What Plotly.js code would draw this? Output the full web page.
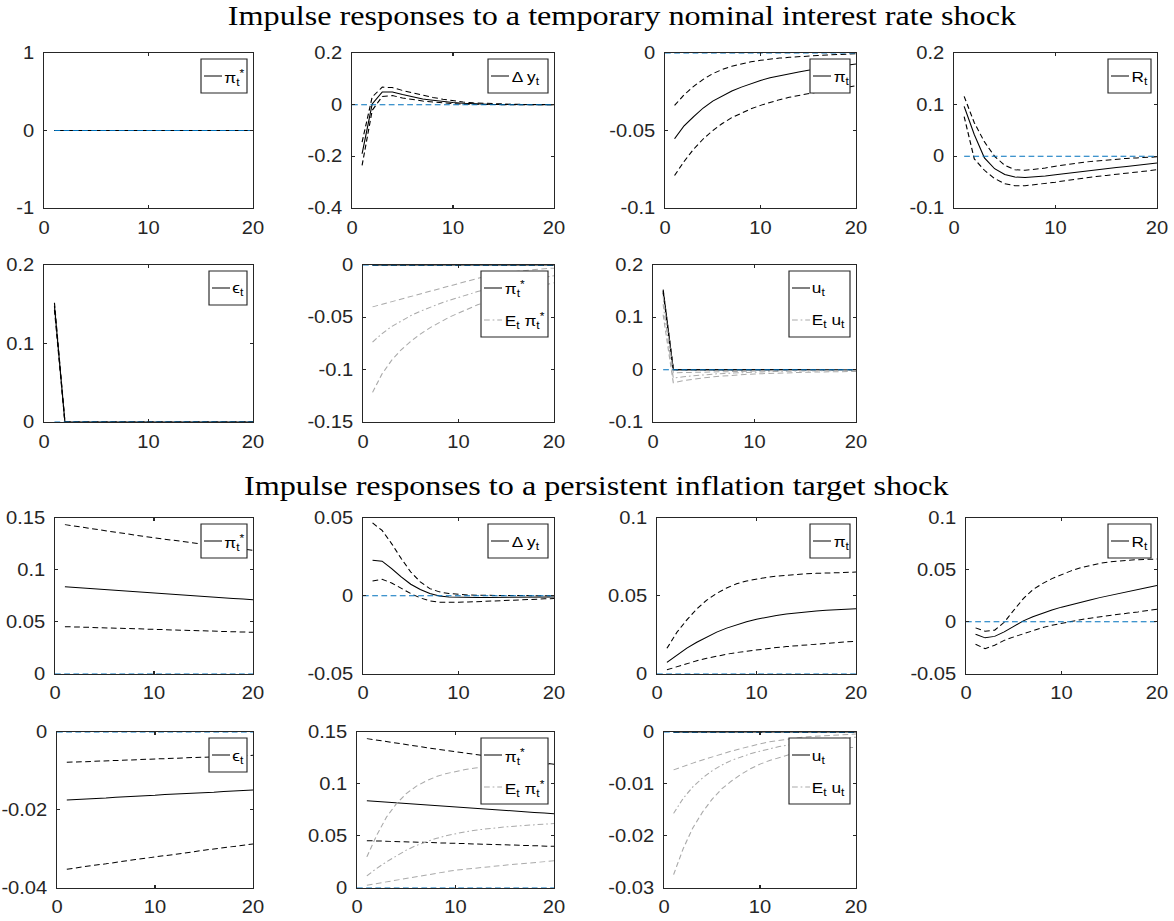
<!DOCTYPE html>
<html><head><meta charset="utf-8">
<script src="https://cdn.plot.ly/plotly-3.0.1.min.js"></script>
<style>
html,body{margin:0;padding:0;background:#fff;overflow:hidden;}
#plot{width:1021px;height:921px;transform:scaleX(1.149853);transform-origin:0 0;}
</style></head><body><div id="plot"></div>
<script>
// ---------------- DATA ----------------
const horizon = [1,2,3,4,5,6,7,8,9,10,11,12,13,14,15,16,17,18,19,20];
const zeroLineX0 = [0,20];
const zeroLineX1 = [1,20];
const zeroLineY = [0,0];
const zeros20 = [0,0,0,0,0,0,0,0,0,0,0,0,0,0,0,0,0,0,0,0];
const xTickVals = [0,10,20];

// Temporary nominal interest rate shock
const tmpPiStar_med = zeros20, tmpPiStar_hi = zeros20, tmpPiStar_lo = zeros20;
const tmpDy_med = [-0.19,0.003,0.049,0.049,0.039,0.030,0.022,0.017,0.012,0.008,0.005,0.003,0.002,0.001,0.001,0.0005,0.0003,0.0002,0.0001,0.0];
const tmpDy_hi  = [-0.145,0.03,0.068,0.066,0.055,0.045,0.036,0.028,0.021,0.015,0.010,0.007,0.005,0.003,0.002,0.0015,0.001,0.0007,0.0005,0.0003];
const tmpDy_lo  = [-0.235,-0.022,0.032,0.035,0.026,0.019,0.014,0.010,0.006,0.004,0.002,0.001,0.0005,0,0,0,0,0,0,0];
const tmpPi_med = [-0.0553,-0.047,-0.041,-0.0355,-0.031,-0.0275,-0.0245,-0.022,-0.0197,-0.0177,-0.016,-0.0146,-0.0133,-0.0122,-0.0112,-0.0103,-0.0094,-0.0086,-0.0078,-0.0071];
const tmpPi_hi  = [-0.0338,-0.027,-0.0215,-0.017,-0.0133,-0.0106,-0.0085,-0.0069,-0.0057,-0.0047,-0.0039,-0.0033,-0.0028,-0.0023,-0.002,-0.0016,-0.0013,-0.001,-0.0007,-0.0005];
const tmpPi_lo  = [-0.079,-0.07,-0.062,-0.0555,-0.05,-0.0455,-0.0417,-0.0386,-0.036,-0.0338,-0.0318,-0.0301,-0.0286,-0.0273,-0.0262,-0.0251,-0.0241,-0.0232,-0.0222,-0.0212];
const tmpR_med = [0.0968,0.042,-0.003,-0.024,-0.035,-0.04,-0.041,-0.04,-0.038,-0.0355,-0.033,-0.0307,-0.0284,-0.0261,-0.0239,-0.0217,-0.0196,-0.0175,-0.0153,-0.013];
const tmpR_hi  = [0.116,0.065,0.028,0.0,-0.0174,-0.026,-0.027,-0.025,-0.0226,-0.019,-0.016,-0.0135,-0.011,-0.009,-0.007,-0.0055,-0.004,-0.003,-0.002,-0.001];
const tmpR_lo  = [0.077,-0.005,-0.027,-0.043,-0.053,-0.057,-0.057,-0.055,-0.053,-0.05,-0.047,-0.044,-0.042,-0.039,-0.037,-0.035,-0.033,-0.031,-0.0285,-0.026];
const tmpEps_med = [0.148,0,0,0,0,0,0,0,0,0,0,0,0,0,0,0,0,0,0,0];
const tmpEps_hi  = [0.152,0,0,0,0,0,0,0,0,0,0,0,0,0,0,0,0,0,0,0];
const tmpEps_lo  = [0.143,0,0,0,0,0,0,0,0,0,0,0,0,0,0,0,0,0,0,0];
const tmpEPiStar_med = [-0.0736,-0.0655,-0.0588,-0.0532,-0.0484,-0.0442,-0.0404,-0.037,-0.0338,-0.0308,-0.028,-0.0254,-0.023,-0.0208,-0.0187,-0.0168,-0.015,-0.0133,-0.0117,-0.0102];
const tmpEPiStar_hi  = [-0.040,-0.0375,-0.035,-0.0325,-0.030,-0.0275,-0.025,-0.0225,-0.020,-0.0175,-0.015,-0.0128,-0.0108,-0.009,-0.0075,-0.0062,-0.0051,-0.0042,-0.0035,-0.003];
const tmpEPiStar_lo  = [-0.1217,-0.104,-0.091,-0.081,-0.073,-0.066,-0.060,-0.055,-0.050,-0.046,-0.042,-0.038,-0.035,-0.032,-0.029,-0.026,-0.024,-0.021,-0.019,-0.017];
const tmpU_med = [0.150,0,0,0,0,0,0,0,0,0,0,0,0,0,0,0,0,0,0,0];
const tmpU_hi  = [0.153,0,0,0,0,0,0,0,0,0,0,0,0,0,0,0,0,0,0,0];
const tmpU_lo  = [0.147,0,0,0,0,0,0,0,0,0,0,0,0,0,0,0,0,0,0,0];
const tmpEU_med = [0.125,-0.016,-0.0135,-0.0115,-0.0098,-0.0084,-0.0072,-0.0062,-0.0053,-0.0046,-0.004,-0.0035,-0.003,-0.0026,-0.0023,-0.002,-0.0018,-0.0016,-0.0014,-0.0013];
const tmpEU_hi  = [0.140,-0.006,-0.0055,-0.005,-0.0045,-0.004,-0.0036,-0.0032,-0.0028,-0.0025,-0.0022,-0.0019,-0.0017,-0.0015,-0.0013,-0.0011,-0.001,-0.0009,-0.0008,-0.0007];
const tmpEU_lo  = [0.105,-0.025,-0.021,-0.018,-0.0155,-0.0135,-0.0118,-0.0104,-0.0092,-0.0082,-0.0073,-0.0066,-0.006,-0.0055,-0.005,-0.0046,-0.0043,-0.004,-0.0037,-0.0035];

// Persistent inflation target shock
const perPiStar_med = [0.0837,0.083,0.0823,0.0816,0.0809,0.0802,0.0795,0.0788,0.0781,0.0775,0.0768,0.0761,0.0755,0.0749,0.0742,0.0736,0.073,0.0724,0.0718,0.0712];
const perPiStar_hi  = [0.1436,0.1421,0.1406,0.1392,0.1378,0.1364,0.135,0.1336,0.1322,0.1309,0.1296,0.1283,0.127,0.1258,0.1246,0.1234,0.1222,0.1211,0.12,0.1189];
const perPiStar_lo  = [0.0452,0.0449,0.0446,0.0443,0.044,0.0437,0.0434,0.0431,0.0428,0.0425,0.0422,0.0419,0.0416,0.0413,0.041,0.0407,0.0404,0.0402,0.0399,0.0397];
const perDy_med = [0.0228,0.0222,0.0175,0.0121,0.0074,0.004,0.0014,-0.0001,-0.0008,-0.001,-0.0011,-0.0011,-0.0011,-0.001,-0.001,-0.001,-0.0009,-0.0009,-0.0009,-0.0008];
const perDy_hi  = [0.0468,0.042,0.0335,0.0239,0.0153,0.0089,0.0046,0.0025,0.0014,0.0008,0.0005,0.0003,0.0002,0.0001,0.0001,0,0,0,0,0];
const perDy_lo  = [0.0095,0.0106,0.0082,0.0046,0.0014,-0.0014,-0.0033,-0.0042,-0.0044,-0.0042,-0.004,-0.0037,-0.0034,-0.0031,-0.0028,-0.0026,-0.0024,-0.0022,-0.002,-0.0018];
const perPi_med = [0.0071,0.012,0.0163,0.0201,0.0236,0.0266,0.0292,0.0314,0.0333,0.0349,0.0362,0.0373,0.0382,0.039,0.0397,0.0402,0.0407,0.0411,0.0414,0.0417];
const perPi_hi  = [0.0162,0.0265,0.0345,0.0415,0.0472,0.0515,0.055,0.0577,0.0595,0.0608,0.0618,0.0626,0.0632,0.0637,0.0641,0.0644,0.0647,0.0649,0.0651,0.0652];
const perPi_lo  = [0.0024,0.0045,0.0064,0.0082,0.0098,0.0112,0.0124,0.0135,0.0144,0.0152,0.016,0.0167,0.0173,0.0179,0.0184,0.0189,0.0194,0.0199,0.0203,0.0207];
const perR_med = [-0.0121,-0.0156,-0.0142,-0.0098,-0.0045,0.0008,0.0048,0.0083,0.0113,0.014,0.0165,0.0188,0.021,0.0232,0.0253,0.0273,0.0292,0.0311,0.033,0.0348];
const perR_hi  = [-0.006,-0.0092,-0.0082,-0.0006,0.011,0.0222,0.0309,0.0367,0.0415,0.0455,0.049,0.052,0.0543,0.0562,0.0576,0.0586,0.0593,0.0598,0.0601,0.0604];
const perR_lo  = [-0.0218,-0.026,-0.0228,-0.018,-0.0147,-0.0115,-0.0085,-0.0058,-0.0034,-0.0014,0.0003,0.0019,0.0034,0.0048,0.006,0.0072,0.0083,0.0094,0.0107,0.012];
const perEps_med = [-0.0175,-0.0174,-0.0172,-0.0171,-0.017,-0.0168,-0.0167,-0.0166,-0.0164,-0.0163,-0.0161,-0.016,-0.0159,-0.0157,-0.0156,-0.0155,-0.0153,-0.0152,-0.015,-0.0149];
const perEps_hi  = [-0.0078,-0.0077,-0.0076,-0.0075,-0.0074,-0.0073,-0.0072,-0.0071,-0.007,-0.0069,-0.0068,-0.0067,-0.0066,-0.0066,-0.0065,-0.0064,-0.0063,-0.0062,-0.0061,-0.006];
const perEps_lo  = [-0.0353,-0.0349,-0.0346,-0.0342,-0.0339,-0.0335,-0.0332,-0.0328,-0.0325,-0.0321,-0.0318,-0.0315,-0.0311,-0.0308,-0.0304,-0.0301,-0.0298,-0.0294,-0.0291,-0.0288];
const perEPiStar_med = [0.0112,0.0185,0.0248,0.0305,0.036,0.0405,0.0442,0.0473,0.0498,0.052,0.0538,0.0553,0.0565,0.0575,0.0584,0.0592,0.0599,0.0605,0.0611,0.0617];
const perEPiStar_hi  = [0.0295,0.0504,0.068,0.0809,0.0905,0.0976,0.1027,0.1068,0.1098,0.112,0.1138,0.1152,0.1162,0.117,0.1176,0.118,0.1183,0.1185,0.1187,0.1188];
const perEPiStar_lo  = [0.0022,0.0039,0.0055,0.0071,0.0087,0.0104,0.012,0.0136,0.0152,0.0167,0.0178,0.0189,0.0198,0.0207,0.0215,0.0224,0.0233,0.0241,0.0249,0.0257];
const perU_med = zeros20, perU_hi = zeros20, perU_lo = zeros20;
const perEU_med = [-0.0157,-0.0128,-0.0106,-0.0089,-0.0075,-0.0064,-0.0055,-0.0048,-0.0042,-0.0037,-0.0032,-0.0028,-0.0025,-0.0022,-0.0019,-0.0017,-0.0015,-0.0013,-0.0011,-0.001];
const perEU_hi  = [-0.0073,-0.0066,-0.006,-0.0054,-0.0048,-0.0042,-0.0037,-0.0032,-0.0027,-0.0023,-0.0019,-0.0016,-0.0013,-0.0011,-0.0009,-0.0008,-0.0007,-0.0006,-0.0005,-0.0004];
const perEU_lo  = [-0.0275,-0.0225,-0.0185,-0.0155,-0.013,-0.011,-0.0095,-0.0082,-0.0071,-0.0062,-0.0055,-0.0049,-0.0044,-0.004,-0.0037,-0.0035,-0.0033,-0.0031,-0.003,-0.003];

// y tick values per panel
const yt1 = [-1,0,1], yt2 = [-0.4,-0.2,0,0.2], yt3 = [-0.1,-0.05,0], yt4 = [-0.1,0,0.1,0.2];
const yt5 = [0,0.1,0.2], yt6 = [-0.15,-0.1,-0.05,0], yt7 = [-0.1,0,0.1,0.2];
const yt8 = [0,0.05,0.1,0.15], yt9 = [-0.05,0,0.05], yt10 = [0,0.05,0.1], yt11 = [-0.05,0,0.05,0.1];
const yt12 = [-0.04,-0.02,0], yt13 = [0,0.05,0.1,0.15], yt14 = [-0.03,-0.02,-0.01,0];

const title1 = 'Impulse responses to a temporary nominal interest rate shock';
const title2 = 'Impulse responses to a persistent inflation target shock';

// ---------------- LAYOUT CONFIG ----------------
const W = 1021, H = 921, REFW = 1174;
const fx = px => px / REFW;
const fy = py => 1 - py / H;
const FONT = 'Liberation Sans, Arial, Helvetica, sans-serif';
const AX = '#262626';
const DASH = '5px,3px';
const DASHDOT = '5px,2.5px,1.5px,2.5px';
const GRAY = '#aaaaaa';
const BLUE = '#0072BD';

const panels = [
  {box:[44,253,53,208], yr:[-1,1], yt:yt1, m:[tmpPiStar_lo,tmpPiStar_hi,tmpPiStar_med], e:null, z:1, leg:['π<sub>t</sub><sup>*</sup>'], lw:46},
  {box:[352,554,53,208], yr:[-0.4,0.2], yt:yt2, m:[tmpDy_lo,tmpDy_hi,tmpDy_med], e:null, z:0, leg:['Δ y<sub>t</sub>'], lw:60},
  {box:[665,856,53,208], yr:[-0.1,0], yt:yt3, m:[tmpPi_lo,tmpPi_hi,tmpPi_med], e:null, z:0, leg:['π<sub>t</sub>'], lw:40},
  {box:[954,1157,53,208], yr:[-0.1,0.2], yt:yt4, m:[tmpR_lo,tmpR_hi,tmpR_med], e:null, z:1, leg:['R<sub>t</sub>'], lw:43},
  {box:[44,253,265,422], yr:[0,0.2], yt:yt5, m:[tmpEps_lo,tmpEps_hi,tmpEps_med], e:null, z:1, leg:['ϵ<sub>t</sub>'], lw:38},
  {box:[363,554,265,422], yr:[-0.15,0], yt:yt6, m:[zeros20,zeros20,zeros20], e:[tmpEPiStar_lo,tmpEPiStar_hi,tmpEPiStar_med], z:0, leg:['π<sub>t</sub><sup>*</sup>','E<sub>t</sub> π<sub>t</sub><sup>*</sup>'], lw:67},
  {box:[653,856,265,422], yr:[-0.1,0.2], yt:yt7, m:[tmpU_lo,tmpU_hi,tmpU_med], e:[tmpEU_lo,tmpEU_hi,tmpEU_med], z:1, leg:['u<sub>t</sub>','E<sub>t</sub> u<sub>t</sub>'], lw:61},
  {box:[55,253,518,673.5], yr:[0,0.15], yt:yt8, m:[perPiStar_lo,perPiStar_hi,perPiStar_med], e:null, z:0, leg:['π<sub>t</sub><sup>*</sup>'], lw:46},
  {box:[363,554,518,673.5], yr:[-0.05,0.05], yt:yt9, m:[perDy_lo,perDy_hi,perDy_med], e:null, z:0, leg:['Δ y<sub>t</sub>'], lw:60},
  {box:[657,856,518,673.5], yr:[0,0.1], yt:yt10, m:[perPi_lo,perPi_hi,perPi_med], e:null, z:0, leg:['π<sub>t</sub>'], lw:40},
  {box:[966,1157,518,673.5], yr:[-0.05,0.1], yt:yt11, m:[perR_lo,perR_hi,perR_med], e:null, z:0, leg:['R<sub>t</sub>'], lw:43},
  {box:[57,253,732,887.5], yr:[-0.04,0], yt:yt12, m:[perEps_lo,perEps_hi,perEps_med], e:null, z:0, leg:['ϵ<sub>t</sub>'], lw:38},
  {box:[357,554,732,887.5], yr:[0,0.15], yt:yt13, m:[perPiStar_lo,perPiStar_hi,perPiStar_med], e:[perEPiStar_lo,perEPiStar_hi,perEPiStar_med], z:0, leg:['π<sub>t</sub><sup>*</sup>','E<sub>t</sub> π<sub>t</sub><sup>*</sup>'], lw:67},
  {box:[664,856,732,887.5], yr:[-0.03,0], yt:yt14, m:[perU_lo,perU_hi,perU_med], e:[perEU_lo,perEU_hi,perEU_med], z:0, leg:['u<sub>t</sub>','E<sub>t</sub> u<sub>t</sub>'], lw:61}
];

const traces = [];
const layout = {
  width: W, height: H, autosize: false,
  margin: {l:0, r:0, t:0, b:0},
  paper_bgcolor: '#fff', plot_bgcolor: '#fff',
  showlegend: false,
  shapes: [], annotations: []
};

function ln(x, y, xa, ya, color, dash) {
  return {x:x, y:y, xaxis:xa, yaxis:ya, type:'scatter', mode:'lines',
          line:{color:color, width:1, dash:dash}, showlegend:false, hoverinfo:'skip'};
}

panels.forEach((p, i) => {
  const n = i + 1;
  const xa = n === 1 ? 'x' : 'x' + n;
  const ya = n === 1 ? 'y' : 'y' + n;
  const [L, R, T, B] = p.box;
  traces.push(ln(horizon, p.m[0], xa, ya, '#000', DASH));
  traces.push(ln(horizon, p.m[1], xa, ya, '#000', DASH));
  traces.push(ln(horizon, p.m[2], xa, ya, '#000', 'solid'));
  if (p.e) {
    traces.push(ln(horizon, p.e[0], xa, ya, GRAY, DASH));
    traces.push(ln(horizon, p.e[1], xa, ya, GRAY, DASH));
    traces.push(ln(horizon, p.e[2], xa, ya, GRAY, DASHDOT));
  }
  traces.push(ln(p.z === 0 ? zeroLineX0 : zeroLineX1, zeroLineY, xa, ya, BLUE, DASH));

  const common = {
    showline: true, linecolor: AX, linewidth: 1, mirror: 'ticks',
    ticks: 'inside', ticklen: 3, tickwidth: 1, tickcolor: AX,
    showgrid: false, zeroline: false, fixedrange: true,
    tickfont: {family: FONT, size: 17.5, color: AX}
  };
  layout['xaxis' + (n === 1 ? '' : n)] = Object.assign({}, common, {
    domain: [fx(L), fx(R)], anchor: ya, range: [0, 20],
    tickmode: 'array', tickvals: xTickVals, ticktext: xTickVals.map(String),
    ticklabelstandoff: 4
  });
  layout['yaxis' + (n === 1 ? '' : n)] = Object.assign({}, common, {
    domain: [fy(B), fy(T)], anchor: xa, range: p.yr,
    tickmode: 'array', tickvals: p.yt, ticktext: p.yt.map(String),
    ticklabelstandoff: 4
  });

  // legend box (MATLAB style)
  const nE = p.leg.length;
  const bx1 = R - 6, bx0 = bx1 - p.lw, by0 = T + 6, by1 = by0 + (nE === 1 ? 34 : 66);
  layout.shapes.push({type:'rect', xref:'paper', yref:'paper', x0:fx(bx0), x1:fx(bx1), y0:fy(by1), y1:fy(by0),
    line:{color:AX, width:1}, fillcolor:'#fff', layer:'above'});
  p.leg.forEach((txt, k) => {
    const ey = by0 + 17 + 32 * k;
    const isE = k === 1;
    layout.shapes.push({type:'line', xref:'paper', yref:'paper', x0:fx(bx0 + 3), x1:fx(bx0 + 21), y0:fy(ey), y1:fy(ey),
      line:{color: isE ? GRAY : '#000', width:1, dash: isE ? DASHDOT : 'solid'}, layer:'above'});
    layout.annotations.push({xref:'paper', yref:'paper', x:fx(bx0 + 21), y:fy(ey + 1), xanchor:'left', yanchor:'middle',
      text: txt, showarrow:false, font:{family:FONT, size:15, color:'#000'}});
  });
});

layout.annotations.push({xref:'paper', yref:'paper', x:fx(621.5), y:fy(15), xanchor:'center', yanchor:'middle',
  text:title1, showarrow:false, font:{family:'Liberation Serif, Times New Roman, serif', size:28, color:'#000'}});
layout.annotations.push({xref:'paper', yref:'paper', x:fx(596.5), y:fy(485), xanchor:'center', yanchor:'middle',
  text:title2, showarrow:false, font:{family:'Liberation Serif, Times New Roman, serif', size:28, color:'#000'}});

Plotly.newPlot('plot', traces, layout, {staticPlot: true, displayModeBar: false});
</script></body></html>
